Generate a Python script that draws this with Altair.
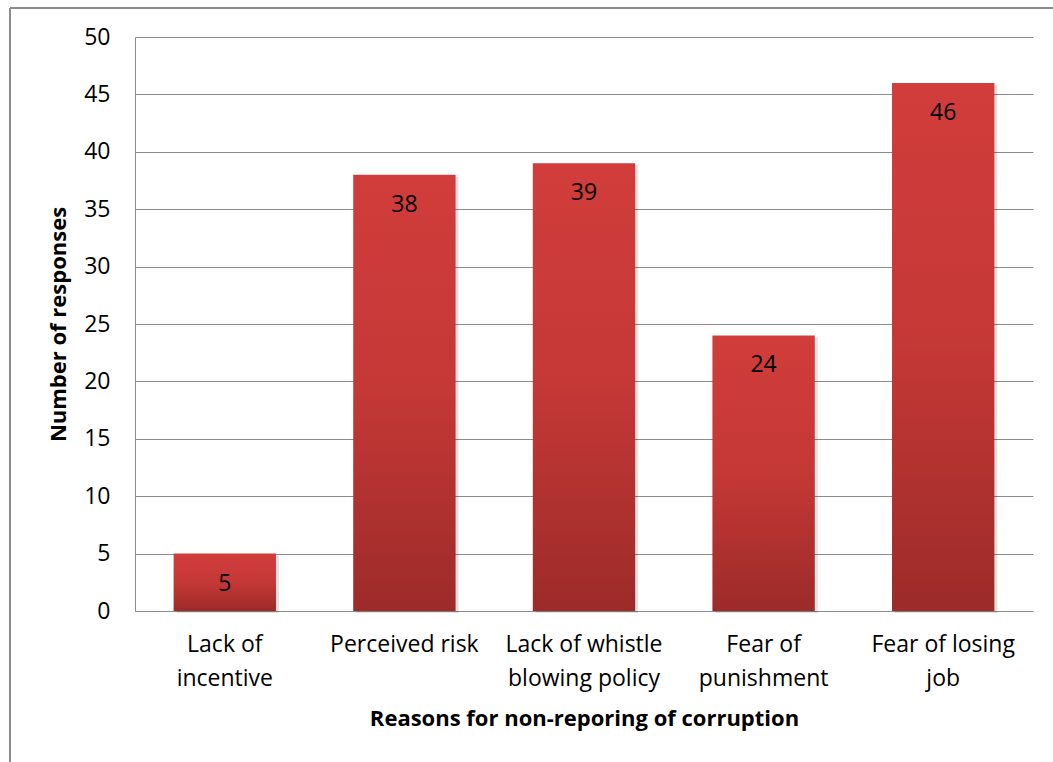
import altair as alt
import pandas as pd

# Reasons and counts; "\n" marks where each axis label wraps
reasons = [
    "Lack of\nincentive",
    "Perceived risk",
    "Lack of whistle\nblowing policy",
    "Fear of\npunishment",
    "Fear of losing\njob",
]
responses = [5, 38, 39, 24, 46]

df = pd.DataFrame({"reason": reasons, "responses": responses})

FONT = "Open Sans"
GRID = "#8c8c8c"
LABEL_SIZE = 23
TITLE_SIZE = 22

x_enc = alt.X(
    "reason:N",
    sort=reasons,
    scale=alt.Scale(paddingInner=0.43, paddingOuter=0.215),
    axis=alt.Axis(
        title="Reasons for non-reporing of corruption",
        labelAngle=0,
        labelExpr="split(datum.label, '\\n')",
        labelFontSize=LABEL_SIZE,
        labelLineHeight=34,
        labelPadding=22,
        labelColor="black",
        labelFont=FONT,
        ticks=False,
        domainColor=GRID,
        titleFontSize=TITLE_SIZE,
        titleFont=FONT,
        titleFontWeight="bold",
        titlePadding=18,
        titleColor="black",
    ),
)
y_enc = alt.Y(
    "responses:Q",
    scale=alt.Scale(domain=[0, 50]),
    axis=alt.Axis(
        title="Number of responses",
        values=list(range(0, 51, 5)),
        labelFontSize=LABEL_SIZE,
        labelPadding=25,
        labelColor="black",
        labelFont=FONT,
        ticks=False,
        domainColor=GRID,
        gridColor=GRID,
        gridOpacity=1,
        titleFontSize=TITLE_SIZE,
        titleFont=FONT,
        titleFontWeight="bold",
        titlePadding=13,
        titleColor="black",
    ),
)

base = alt.Chart(df)

shadow = base.mark_bar(color="#000000", opacity=0.12, xOffset=3, yOffset=2).encode(
    x=x_enc, y=y_enc
)

bars = base.mark_bar(
    color=alt.Gradient(
        gradient="linear",
        x1=0, x2=0, y1=0, y2=1,
        stops=[
            alt.GradientStop(color="#d13d3b", offset=0),
            alt.GradientStop(color="#c43836", offset=0.5),
            alt.GradientStop(color="#9c2b29", offset=1),
        ],
    )
).encode(x=x_enc, y=y_enc)

labels = base.mark_text(
    baseline="middle", dy=30, fontSize=LABEL_SIZE, font=FONT, color="black"
).encode(x=x_enc, y=y_enc, text="responses:Q")

# outer frame of the chart (top and left edges)
frame_top = alt.Chart(df).mark_rule(color=GRID, strokeWidth=1.5).encode(
    x=alt.value(-125), x2=alt.value(930), y=alt.value(-29)
)
frame_left = alt.Chart(df).mark_rule(color=GRID, strokeWidth=1.5).encode(
    x=alt.value(-125), y=alt.value(-29), y2=alt.value(730)
)

chart = (
    alt.layer(shadow, bars, labels, frame_top, frame_left)
    .properties(
        width=898,
        height=574,
        autosize=alt.AutoSizeParams(type="none"),
        padding={"left": 135, "top": 37, "right": 20, "bottom": 151},
        background="white",
    )
    .configure_view(stroke=None)
)

chart.save("out.html", embed_options={"renderer": "svg", "actions": False})
